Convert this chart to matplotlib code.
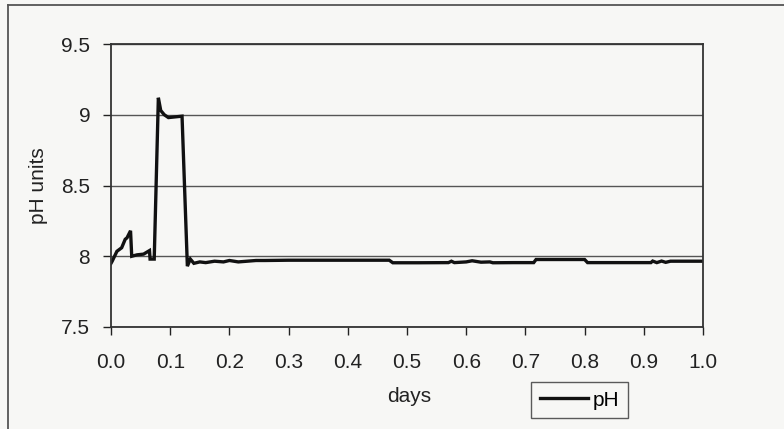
import matplotlib
matplotlib.use("Agg")
import matplotlib.pyplot as plt
from matplotlib.lines import Line2D

days = [0.000, 0.002, 0.010, 0.018, 0.024, 0.027, 0.033, 0.035, 0.044, 0.055,
        0.065, 0.066, 0.073, 0.080, 0.084, 0.090, 0.097, 0.120, 0.129, 0.134,
        0.140, 0.150, 0.160, 0.175, 0.190, 0.200, 0.215, 0.230, 0.245, 0.260,
        0.300, 0.350, 0.400, 0.470, 0.476, 0.520, 0.570, 0.575, 0.580, 0.600,
        0.610, 0.625, 0.640, 0.645, 0.680, 0.714, 0.718, 0.760, 0.800, 0.805,
        0.850, 0.912, 0.915, 0.922, 0.930, 0.937, 0.945, 1.000]
ph = [7.95, 7.965, 8.035, 8.06, 8.12, 8.13, 8.18, 8.00, 8.01, 8.015,
      8.04, 7.98, 7.98, 9.12, 9.03, 9.00, 8.98, 8.99, 7.93, 7.98,
      7.95, 7.96, 7.955, 7.965, 7.96, 7.97, 7.96, 7.965, 7.97, 7.97,
      7.972, 7.972, 7.972, 7.972, 7.954, 7.954, 7.955, 7.965, 7.955, 7.96,
      7.968, 7.958, 7.96, 7.954, 7.955, 7.955, 7.977, 7.977, 7.977, 7.955,
      7.955, 7.955, 7.966, 7.955, 7.966, 7.957, 7.965, 7.965]

x_ticks = [0.0, 0.1, 0.2, 0.3, 0.4, 0.5, 0.6, 0.7, 0.8, 0.9, 1.0]
x_labels = ["0.0", "0.1", "0.2", "0.3", "0.4", "0.5", "0.6", "0.7", "0.8", "0.9", "1.0"]
y_ticks = [7.5, 8.0, 8.5, 9.0, 9.5]
y_labels = ["7.5", "8", "8.5", "9", "9.5"]

plt.rcParams['font.family'] = ['Liberation Sans', 'DejaVu Sans']

W, H = 784, 429
L, R, T, B = 111, 703, 44, 327
FS = 15
fig = plt.figure(figsize=(W / 100, H / 100), dpi=100)
fig.patch.set_facecolor("#f7f7f5")

ax = fig.add_axes([L / W, 1 - B / H, (R - L) / W, (B - T) / H])
ax.set_facecolor("#f7f7f5")

ax.plot(days, ph, color="#111111", lw=2.4, solid_joinstyle="miter")

ax.set_xlim(0, 1.0)
ax.set_ylim(7.5, 9.5)
ax.set_xticks(x_ticks)
ax.set_xticklabels(x_labels)
ax.set_yticks(y_ticks)
ax.set_yticklabels(y_labels)
ax.tick_params(axis="both", labelsize=FS, colors="#222222", length=6, width=1.0,
               direction="out")
ax.tick_params(axis="y", pad=9)
ax.tick_params(axis="x", pad=13)
for s in ax.spines.values():
    s.set_color("#333333")
    s.set_linewidth(1.3)
ax.grid(axis="y", color="#555555", lw=1.0)
ax.set_axisbelow(True)

ax.set_xlabel("days", fontsize=FS, color="#222222")
ax.set_ylabel("pH units", fontsize=FS, color="#222222")
ax.xaxis.set_label_coords((409 - L) / (R - L), -(397 - B) / (B - T))
ax.yaxis.set_label_coords(-(L - 39) / (R - L), 0.5)
ax.xaxis.label.set_va("center")
ax.yaxis.label.set_va("center")

leg = ax.legend(handles=[Line2D([], [], color="#111111", lw=2.4)], labels=["pH"],
                loc="center", bbox_to_anchor=((579.5 - L) / (R - L), -(400 - B) / (B - T)),
                bbox_transform=ax.transAxes, fontsize=FS, frameon=True, fancybox=False,
                handlelength=2.3, handletextpad=0.25, borderpad=0.42, borderaxespad=0)
leg.get_frame().set_edgecolor("#333333")
leg.get_frame().set_linewidth(1.0)
leg.get_frame().set_facecolor("#f7f7f5")

# outer chart frame (left and top edges visible)
fig.add_artist(Line2D([8 / W, 8 / W], [0, 1 - 5 / H], transform=fig.transFigure,
                      color="#555555", lw=1.3))
fig.add_artist(Line2D([8 / W, 1], [1 - 5 / H, 1 - 5 / H], transform=fig.transFigure,
                      color="#555555", lw=1.3))

fig.savefig("out.png", dpi=100, facecolor=fig.get_facecolor())
